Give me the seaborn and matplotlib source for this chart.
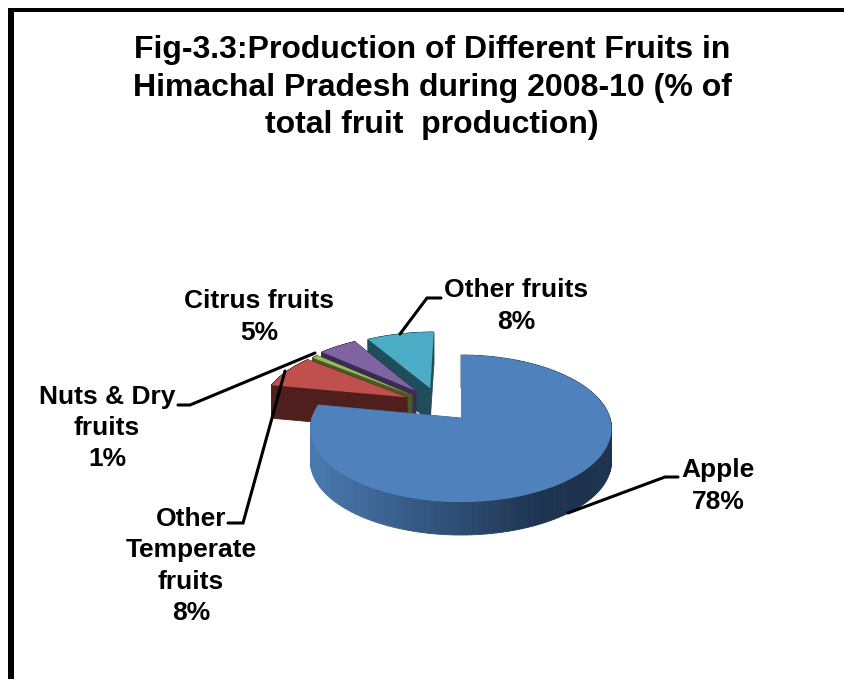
import numpy as np
import matplotlib
matplotlib.use("Agg")
import matplotlib.pyplot as plt
import matplotlib.transforms as mtransforms
from matplotlib.patches import Polygon, Rectangle
import seaborn as sns

# Chart data
categories = ["Apple", "Other Temperate fruits", "Nuts & Dry fruits", "Citrus fruits", "Other fruits"]
values = [78, 7.6, 0.8, 4.9, 8.7]
shown_labels = ["Apple\n78%", "Other\nTemperate\nfruits\n8%", "Nuts & Dry\nfruits\n1%", "Citrus fruits\n5%", "Other fruits\n8%"]
title_lines = ["Fig-3.3:Production of Different Fruits in",
               "Himachal Pradesh during 2008-10 (% of",
               "total fruit  production)"]

# Styles
top_colors = ["#4F81BD", "#C0504D", "#9BBB59", "#8064A2", "#4BACC6"]
wall_colors = ["#2F4F78", "#4F1F1D", "#4A5A24", "#3A2A56", "#1F4D5A"]
slice_offsets = [(0, 0), (-0.378, 0.30), (-0.345, 0.333), (-0.32, 0.397), (-0.22, 0.44)]
draw_order = [4, 3, 2, 1, 0]
depth = 33
W, H = 845, 679

sns.set_theme(style="white")
plt.rcParams["font.family"] = ["Liberation Sans", "DejaVu Sans"]


# Tilts the flat pie into the picture, near edge bigger than far edge
class Tilt(mtransforms.Transform):
    input_dims = 2
    output_dims = 2
    is_separable = False
    has_inverse = False

    def __init__(self, cx=461, cy=418, a=149, b=72, k=0.143):
        super().__init__()
        self.cx, self.cy, self.a, self.b, self.k = cx, cy, a, b, k

    def transform_non_affine(self, values):
        xy = np.asarray(values, dtype=float)
        w = 1 + self.k * xy[:, 1]
        return np.column_stack([self.cx + self.a * xy[:, 0] / w, self.cy - self.b * xy[:, 1] / w])


tilt = Tilt()

fig, ax = plt.subplots(figsize=(W / 100, H / 100), dpi=100)
ax.set_position([0, 0, 1, 1])
wedges, _ = ax.pie(values, startangle=90, counterclock=False, wedgeprops={"linewidth": 0})
ax.set_aspect("auto")
ax.set_xlim(0, W)
ax.set_ylim(H, 0)

# Apple side gets a dark gradient going to the right
def apple_wall_color(x):
    t = np.clip((x - 312) / 230, 0, 1)
    left = np.array([0x4A, 0x79, 0xAF]) / 255
    right = np.array([0x1E, 0x33, 0x50]) / 255
    return tuple(left + (right - left) * t)


for z, i in enumerate(draw_order):
    wedge = wedges[i]
    wedge.set_center(slice_offsets[i])
    wedge.set_transform(tilt + ax.transData)
    wedge.set_facecolor(top_colors[i])
    wedge.set_zorder(z * 2 + 3)

    # Side walls built from the same wedge angles
    angles = np.radians(np.linspace(wedge.theta1, wedge.theta2, 160))
    dx, dy = slice_offsets[i]
    outline = np.vstack([[dx, dy], np.column_stack([dx + np.cos(angles), dy + np.sin(angles)]), [dx, dy]])
    pts = tilt.transform_non_affine(outline)
    for p, q in zip(pts[:-1], pts[1:]):
        quad = [p, q, q + [0, depth], p + [0, depth]]
        color = apple_wall_color((p[0] + q[0]) / 2) if i == 0 else wall_colors[i]
        ax.add_patch(Polygon(quad, closed=True, facecolor=color, edgecolor=color, linewidth=0.6, zorder=z * 2 + 2))

# Frame, only top and left show
ax.add_patch(Rectangle((8, 8), W, 4, facecolor="black", linewidth=0, zorder=1))
ax.add_patch(Rectangle((8, 8), 6, H, facecolor="black", linewidth=0, zorder=1))

# Title
title_y = [58, 96, 133]
for line, y in zip(title_lines, title_y):
    ax.text(432, y, line, ha="center", va="baseline", fontsize=23, fontweight="bold", color="black", zorder=20)

# Data labels
label_pos = [(718, 486), (191, 566), (107, 428), (259, 317), (516, 306)]
for text, (x, y) in zip(shown_labels, label_pos):
    ax.text(x, y, text, ha="center", va="center", fontsize=19, fontweight="bold",
            color="black", linespacing=1.37, zorder=20)

# Leader lines
leaders = [
    [(568, 513), (665, 477), (678, 477)],
    [(228, 523), (243, 523), (285, 371)],
    [(178, 405), (190, 405), (315, 353)],
    [(400, 334), (427, 298), (441, 298)],
]
for leader in leaders:
    xs, ys = zip(*leader)
    ax.plot(xs, ys, color="black", linewidth=2.2, solid_joinstyle="miter", zorder=15)

fig.savefig("out.png", dpi=100, facecolor="white")
